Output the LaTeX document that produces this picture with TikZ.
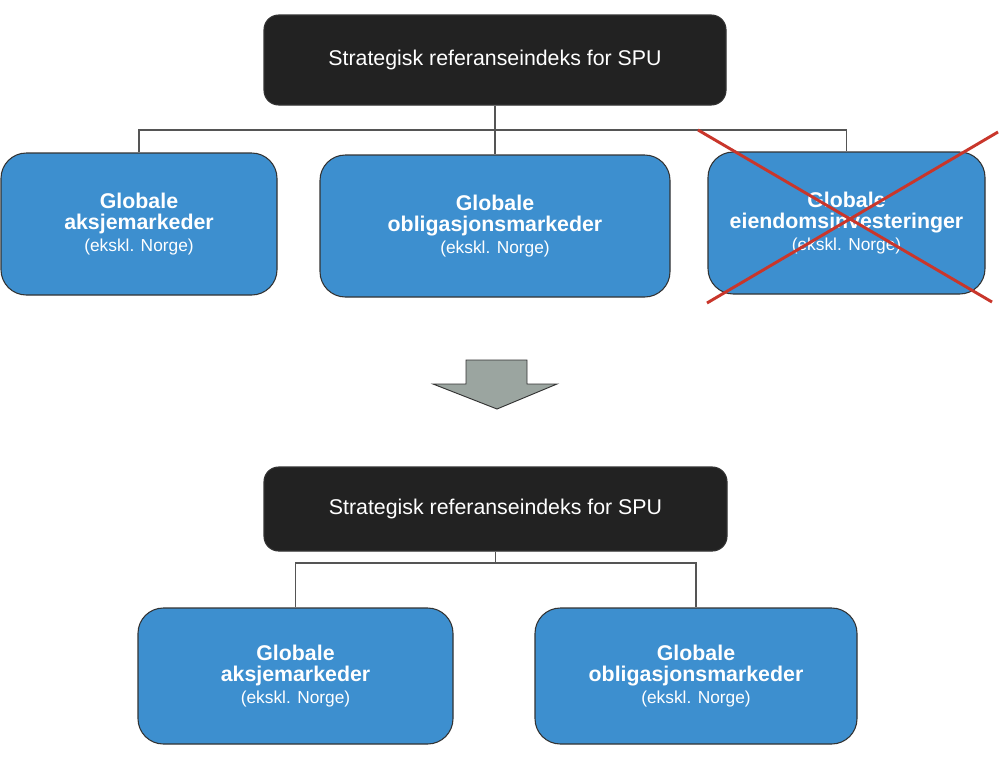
\documentclass[tikz,border=0pt]{standalone}
\usepackage{fontspec}
\setmainfont{Liberation Sans}
\definecolor{boxblue}{HTML}{3D8FCF}
\definecolor{boxdark}{HTML}{222222}
\definecolor{edge}{HTML}{333333}
\definecolor{linkgray}{HTML}{555555}
\definecolor{crossred}{HTML}{C9362B}
\definecolor{arrowgray}{HTML}{9BA5A0}
\newcommand{\bigb}{\fontsize{16}{16}\selectfont\bfseries}
\newcommand{\smallr}{\fontsize{13}{16}\selectfont\mdseries}
\begin{document}
\begin{tikzpicture}[x=0.75pt,y=-0.75pt,
  topbox/.style={draw=edge,fill=boxdark,rounded corners=11pt,line width=0.8pt,text=white,
    font=\fontsize{16}{19}\selectfont,inner sep=0pt},
  marketbox/.style={draw=edge,fill=boxblue,rounded corners=19pt,line width=0.8pt,text=white,
    align=center,inner sep=0pt,font=\fontsize{16}{16}\selectfont},
  link/.style={draw=linkgray,line width=1pt}]
\useasboundingbox (0,0) rectangle (1000,761);
\fill[white] (0,0) rectangle (1000,761);
% upper tree
\node[topbox,minimum width=346.5pt,minimum height=67.5pt] (top1) at (495,60) {Strategisk referanseindeks for SPU};
\node[marketbox,minimum width=207pt,minimum height=106.5pt] (l1) at (139,224) {\bigb Globale\\\bigb aksjemarkeder\\\smallr (ekskl. Norge)};
\node[marketbox,minimum width=262.5pt,minimum height=106.5pt] (m1) at (495,226) {\bigb Globale\\\bigb obligasjonsmarkeder\\\smallr (ekskl. Norge)};
\node[marketbox,minimum width=207.75pt,minimum height=106.5pt] (r1) at (846.5,223) {\bigb Globale\\\bigb eiendomsinvesteringer\\\smallr (ekskl. Norge)};
\coordinate (j1) at (495,130);
\draw[link] (top1.south) -- (j1);
\draw[link] (l1.north) |- (j1) -| (r1.north);
\draw[link] (j1) -- (m1.north);
% cross
\draw[crossred,line width=2.2pt] (698,130) -- (992,302);
\draw[crossred,line width=2.2pt] (707,303) -- (998,132);
% arrow
\draw[fill=arrowgray,draw=edge,line width=0.7pt] (466,360) -- (527,360) -- (527,384) -- (557,384) -- (497,409) -- (433,384) -- (466,384) -- cycle;
% lower tree
\node[topbox,minimum width=347.25pt,minimum height=63pt] (top2) at (495.5,509) {Strategisk referanseindeks for SPU};
\node[marketbox,minimum width=236.25pt,minimum height=102pt] (l2) at (295.5,676) {\bigb Globale\\\bigb aksjemarkeder\\\smallr (ekskl. Norge)};
\node[marketbox,minimum width=241.5pt,minimum height=102pt] (r2) at (696,676) {\bigb Globale\\\bigb obligasjonsmarkeder\\\smallr (ekskl. Norge)};
\coordinate (j2) at (495.5,563);
\draw[link] (top2.south) -- (j2);
\draw[link] (l2.north) |- (j2) -| (r2.north);
\end{tikzpicture}
\end{document}
